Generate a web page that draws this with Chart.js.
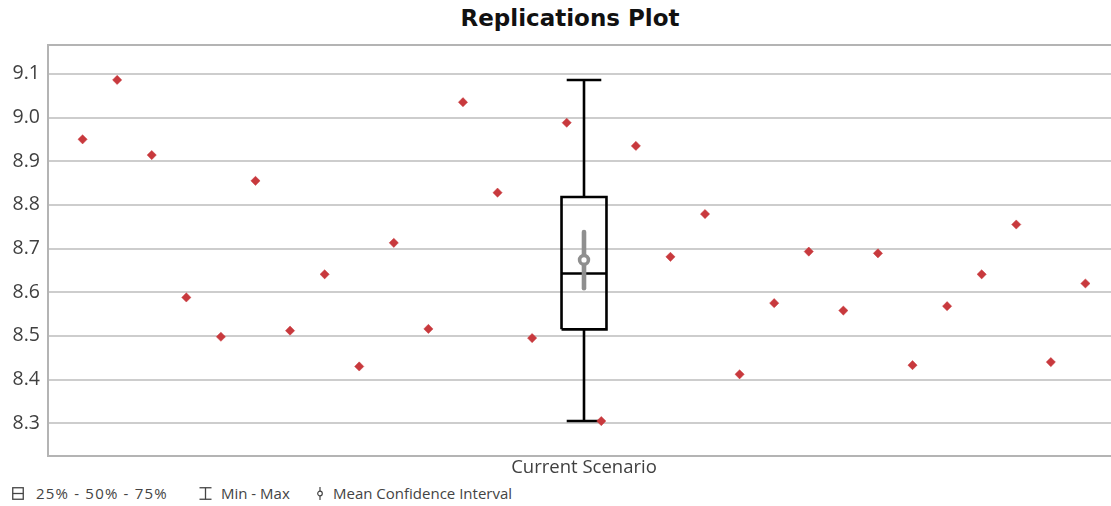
<!DOCTYPE html>
<html>
<head>
<meta charset="utf-8">
<title>Replications Plot</title>
<script src="https://cdn.jsdelivr.net/npm/chart.js@4/dist/chart.umd.min.js"></script>
<style>
  html, body { margin: 0; padding: 0; background: #fff; overflow: hidden; width: 1111px; height: 506px; }
  #title { position: absolute; left: 0; top: 7px; width: 1140px; text-align: center;
           font: bold 23px "DejaVu Sans", sans-serif; line-height: 23px; color: #111; }
  #wrap { position: absolute; left: 0; top: 0; width: 1140px; height: 480px; }
  .leg { position: absolute; top: 483px; font: 15px "Open Sans", sans-serif; line-height: 20px;
         color: #444; white-space: nowrap; }
  .icon { position: absolute; top: 487px; }
</style>
</head>
<body>
<div id="title">Replications Plot</div>
<div id="wrap"><canvas id="chart"></canvas></div>

<svg class="icon" style="left:12px" width="12" height="13" viewBox="0 0 12 13">
  <rect x="0.75" y="0.75" width="10.5" height="11.5" fill="none" stroke="#444" stroke-width="1.3"/>
  <line x1="0.75" y1="6.5" x2="11.25" y2="6.5" stroke="#444" stroke-width="1.3"/>
</svg>
<span class="leg" style="left:36px; letter-spacing:1.2px">25% - 50% - 75%</span>

<svg class="icon" style="left:199px" width="13" height="13" viewBox="0 0 13 13">
  <line x1="0.5" y1="0.75" x2="12.5" y2="0.75" stroke="#444" stroke-width="1.3"/>
  <line x1="0.5" y1="12.25" x2="12.5" y2="12.25" stroke="#444" stroke-width="1.3"/>
  <line x1="6.5" y1="0.75" x2="6.5" y2="12.25" stroke="#444" stroke-width="1.3"/>
</svg>
<span class="leg" style="left:221px">Min - Max</span>

<svg class="icon" style="left:316px" width="8" height="13" viewBox="0 0 8 13">
  <line x1="4" y1="0" x2="4" y2="13" stroke="#444" stroke-width="1.2"/>
  <circle cx="4" cy="6.5" r="2.3" fill="#fff" stroke="#444" stroke-width="1.2"/>
</svg>
<span class="leg" style="left:333px">Mean Confidence Interval</span>

<script>
// Scenario shown on the category axis
const categories = ['Current Scenario'];

// Replication number and result of each replication
const replicationNumbers = [1, 2, 3, 4, 5, 6, 7, 8, 9, 10, 11, 12, 13, 14, 15,
                            16, 17, 18, 19, 20, 21, 22, 23, 24, 25, 26, 27, 28, 29, 30];
const replicationValues = [8.950, 9.086, 8.914, 8.588, 8.498, 8.855, 8.512, 8.641, 8.430, 8.713,
                           8.516, 9.035, 8.828, 8.495, 8.988, 8.305, 8.935, 8.681, 8.779, 8.412,
                           8.575, 8.693, 8.558, 8.689, 8.433, 8.568, 8.641, 8.755, 8.440, 8.620];

// Box summary: 25% / 50% / 75%, min / max, and mean with its confidence interval
const quartiles = [8.515, 8.643, 8.818];
const minMax = [8.305, 9.086];
const meanInterval = [8.609, 8.674, 8.738];   // low, mean, high

// Value axis ticks and ranges
const yTickValues = [8.3, 8.4, 8.5, 8.6, 8.7, 8.8, 8.9, 9.0, 9.1];
const yRange = [8.225, 9.166];
const xRange = [0, 31];

// Where the box sits along the replication axis, and its half-widths (axis units)
const boxCenter = 15.5;
const boxHalf = 0.65;
const capHalf = 0.5;

const boxColor = '#000';
const ciColor = '#8f8f8f';
const pointColor = '#c8393d';
const gridColor = '#cdcdcd';
const axisColor = '#b4b4b4';

function segment(points, extra) {
  return Object.assign({
    data: points,
    showLine: true,
    borderColor: boxColor,
    borderWidth: 2.6,
    pointRadius: 0,
    pointHoverRadius: 0,
    fill: false,
    tension: 0,
    borderJoinStyle: 'miter'
  }, extra || {});
}

const [q1, med, q3] = quartiles;
const [vMin, vMax] = minMax;
const [ciLow, mean, ciHigh] = meanInterval;

const datasets = [
  // replications (first so they are painted on top)
  {
    data: replicationNumbers.map((n, i) => ({ x: n, y: replicationValues[i] })),
    pointStyle: 'rectRot',
    pointRadius: 4.6,
    pointHoverRadius: 4.6,
    pointBackgroundColor: pointColor,
    pointBorderColor: pointColor,
    pointBorderWidth: 0.5,
    showLine: false
  },
  // mean marker
  {
    data: [{ x: boxCenter, y: mean }],
    pointStyle: 'circle',
    pointRadius: 4.4,
    pointHoverRadius: 4.4,
    pointBackgroundColor: '#fff',
    pointBorderColor: ciColor,
    pointBorderWidth: 3.6,
    showLine: false
  },
  // confidence interval of the mean
  segment([{ x: boxCenter, y: ciLow }, { x: boxCenter, y: ciHigh }],
          { borderColor: ciColor, borderWidth: 4.6, borderCapStyle: 'round' }),
  // box outline 25% .. 75%
  segment([
    { x: boxCenter - boxHalf, y: q1 }, { x: boxCenter + boxHalf, y: q1 },
    { x: boxCenter + boxHalf, y: q3 }, { x: boxCenter - boxHalf, y: q3 },
    { x: boxCenter - boxHalf, y: q1 }
  ]),
  // median
  segment([{ x: boxCenter - boxHalf, y: med }, { x: boxCenter + boxHalf, y: med }]),
  // whiskers
  segment([{ x: boxCenter, y: q3 }, { x: boxCenter, y: vMax }]),
  segment([{ x: boxCenter, y: q1 }, { x: boxCenter, y: vMin }]),
  // whisker caps
  segment([{ x: boxCenter - capHalf, y: vMax }, { x: boxCenter + capHalf, y: vMax }]),
  segment([{ x: boxCenter - capHalf, y: vMin }, { x: boxCenter + capHalf, y: vMin }])
];

Chart.defaults.font.family = '"Open Sans", sans-serif';
Chart.defaults.color = '#404040';

new Chart(document.getElementById('chart'), {
  type: 'scatter',
  data: { datasets },
  options: {
    responsive: true,
    maintainAspectRatio: false,
    animation: false,
    events: [],
    layout: { padding: { left: 0, top: 45, right: 20, bottom: 0 } },
    plugins: {
      legend: { display: false },
      tooltip: { enabled: false },
      title: { display: false }
    },
    scales: {
      x: {
        type: 'linear',
        position: 'bottom',
        min: xRange[0],
        max: xRange[1],
        afterBuildTicks: axis => { axis.ticks = [{ value: boxCenter }]; },
        afterFit: axis => { axis.height = 24; },
        ticks: {
          callback: () => categories[0],
          font: { size: 18.5 },
          color: '#404040',
          padding: 1,
          maxRotation: 0,
          autoSkip: false
        },
        grid: { display: false, drawTicks: false },
        border: { display: true, color: axisColor, width: 2 }
      },
      xTop: {
        type: 'linear',
        position: 'top',
        min: xRange[0],
        max: xRange[1],
        afterFit: axis => { axis.height = 0; },
        ticks: { display: false },
        grid: { display: false, drawTicks: false },
        border: { display: true, color: axisColor, width: 2 }
      },
      y: {
        type: 'linear',
        min: yRange[0],
        max: yRange[1],
        afterBuildTicks: axis => { axis.ticks = yTickValues.map(v => ({ value: v })); },
        afterFit: axis => { axis.width = 48; },
        ticks: {
          callback: v => Number(v).toFixed(1),
          font: { size: 19.5 },
          color: '#404040',
          padding: 8
        },
        grid: { color: gridColor, lineWidth: 2, drawTicks: false },
        border: { display: true, color: axisColor, width: 2 }
      }
    }
  }
});
</script>
</body>
</html>
